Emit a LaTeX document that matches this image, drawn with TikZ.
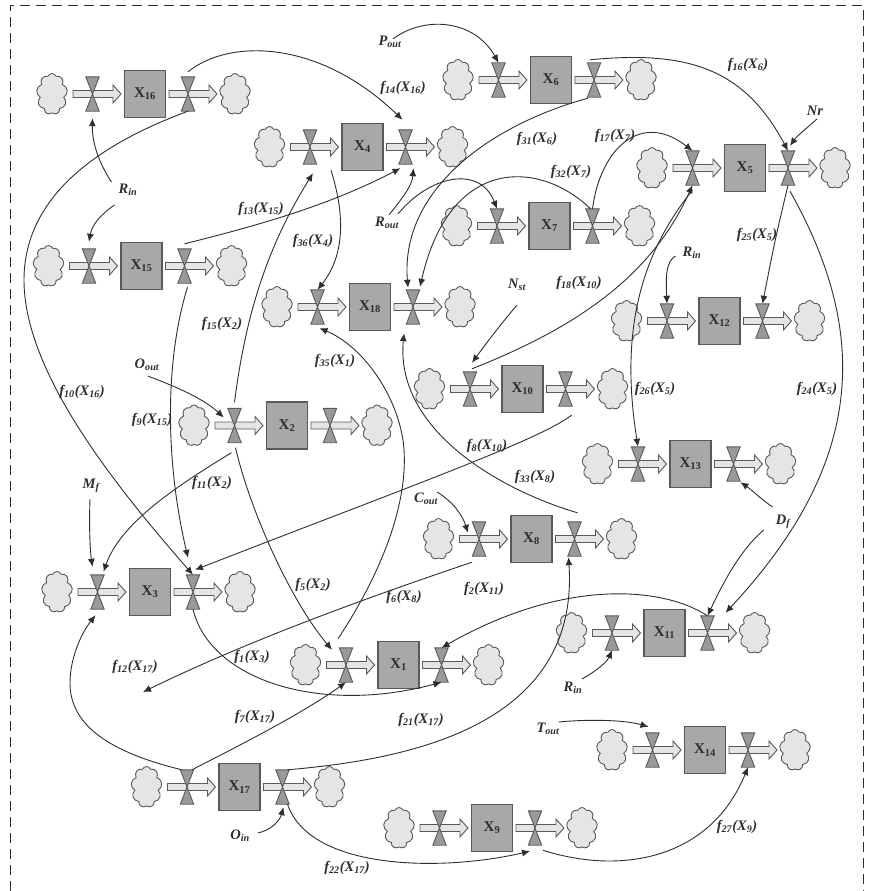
\documentclass[tikz,border=0pt]{standalone}
\usepackage{fontspec}
\setmainfont{Liberation Serif}
\usepackage{xcolor}
\usetikzlibrary{arrows.meta,shapes.symbols}
\definecolor{inkdark}{HTML}{2E2E2E}
\newcommand{\flab}[2]{f\textsubscript{#1}(X\textsubscript{#2})}
\newcommand{\rlab}[2]{#1\textsubscript{#2}}
% one stock with its two clouds, two valves and two block arrows
\newcommand{\stockrow}[4]{
  \begin{scope}[shift={(#2,#3)}]
    \node[cloudy] (#1a) at (-93,0) {};
    \node[cloudy] (#1b) at (90,0) {};
    \draw[flow] (-72,-3.5) -- (-32,-3.5) -- (-32,-9) -- (-24,0) -- (-32,9) -- (-32,3.5) -- (-72,3.5) -- cycle;
    \draw[flow] (24,-3.5) -- (64,-3.5) -- (64,-9) -- (72,0) -- (64,9) -- (64,3.5) -- (24,3.5) -- cycle;
    \node[valve] (#1i) at (-52.5,0) {};
    \node[valve] (#1o) at (43,0) {};
    \draw[fan] (#1i.north west) -- (#1i.north east) -- (#1i.south west) -- (#1i.south east) -- cycle;
    \draw[fan] (#1o.north west) -- (#1o.north east) -- (#1o.south west) -- (#1o.south east) -- cycle;
    \node[tank] (#1) at (0,0) {X\textsubscript{#4}};
  \end{scope}}

\begin{document}
\begin{tikzpicture}[x=1pt,y=-1pt,
  tank/.style={draw=black!65, line width=1.2pt, fill=black!34, minimum width=41pt, minimum height=47pt, inner sep=0pt, text=inkdark, font=\bfseries\fontsize{15}{18}\selectfont},
  cloudy/.style={cloud, cloud puffs=9, cloud puff arc=135, aspect=0.72, shape border rotate=20, draw=black!65, line width=0.9pt, fill=black!10, minimum width=31pt, minimum height=41pt, inner sep=0pt},
  valve/.style={minimum width=13pt, minimum height=34pt, inner sep=0pt},
  fan/.style={draw=black!65, line width=0.9pt, fill=black!40},
  flow/.style={draw=black!65, line width=0.9pt, fill=black!10},
  lab/.style={inner sep=0pt, text=inkdark, font=\bfseries\itshape\fontsize{14.5}{16}\selectfont},
  arr/.style={-{Latex[length=8pt,width=7pt]}, line width=0.9pt, draw=inkdark}]
  \useasboundingbox (0,0) rectangle (872,891);
  \draw[line width=0.9pt, draw=inkdark, dash pattern=on 10pt off 6pt] (10,891) -- (10,5) -- (863,5) -- (863,891);
  % stocks
  \stockrow{x16}{145}{94}{16}
  \stockrow{x6}{551}{80}{6}
  \stockrow{x4}{362.5}{147}{4}
  \stockrow{x5}{745}{168}{5}
  \stockrow{x7}{549.5}{226}{7}
  \stockrow{x15}{141.5}{266}{15}
  \stockrow{x18}{370}{307}{18}
  \stockrow{x12}{719.5}{321}{12}
  \stockrow{x10}{522.5}{389}{10}
  \stockrow{x2}{287}{425.5}{2}
  \stockrow{x13}{690.5}{464}{13}
  \stockrow{x8}{531.5}{539}{8}
  \stockrow{x3}{150}{592}{3}
  \stockrow{x1}{398.5}{665}{1}
  \stockrow{x11}{664.5}{633}{11}
  \stockrow{x14}{705}{750}{14}
  \stockrow{x17}{239.5}{787}{17}
  \stockrow{x9}{492}{828}{9}
  % rate labels
  \node[lab] (rin1) at (128,190) {\rlab{R}{in}};
  \node[lab] (oout) at (147,365) {\rlab{O}{out}};
  \node[lab] (pout) at (390,42) {\rlab{P}{out}};
  \node[lab] (nr) at (815,111) {Nr};
  \node[lab] (rout) at (387,223) {\rlab{R}{out}};
  \node[lab] (nst) at (517,285) {\rlab{N}{st}};
  \node[lab] (rin2) at (692,253) {\rlab{R}{in}};
  \node[lab] (df) at (783,522) {\rlab{D}{f}};
  \node[lab] (rin3) at (573,688) {\rlab{R}{in}};
  \node[lab] (tout) at (548,729) {\rlab{T}{out}};
  \node[lab] (cout) at (426,499) {\rlab{C}{out}};
  \node[lab] (mf) at (91,486) {\rlab{M}{f}};
  \node[lab] (oin) at (240,836) {\rlab{O}{in}};
  % function labels
  \node[lab] (l14) at (403,88) {\flab{14}{16}};
  \node[lab] (l16) at (748,65) {\flab{16}{6}};
  \node[lab] (l31) at (537,139) {\flab{31}{6}};
  \node[lab] (l17) at (615,136) {\flab{17}{7}};
  \node[lab] (l32) at (571,172) {\flab{32}{7}};
  \node[lab] (l13) at (261,209) {\flab{13}{15}};
  \node[lab] (l36) at (313,241) {\flab{36}{4}};
  \node[lab] (l15) at (222,324) {\flab{15}{2}};
  \node[lab] (l35) at (335,361) {\flab{35}{1}};
  \node[lab] (l18) at (579,283) {\flab{18}{10}};
  \node[lab] (l25) at (757,235) {\flab{25}{5}};
  \node[lab] (l26) at (655,389) {\flab{26}{5}};
  \node[lab] (l24) at (817,389) {\flab{24}{5}};
  \node[lab] (l10) at (82,392) {\flab{10}{16}};
  \node[lab] (l9) at (152,420) {\flab{9}{15}};
  \node[lab] (l11) at (212,483) {\flab{11}{2}};
  \node[lab] (l8) at (487,446) {\flab{8}{10}};
  \node[lab] (l33) at (535,477) {\flab{33}{8}};
  \node[lab] (l5) at (313,585) {\flab{5}{2}};
  \node[lab] (l6) at (404,597) {\flab{6}{8}};
  \node[lab] (l2) at (484,589) {\flab{2}{11}};
  \node[lab] (l1) at (252,657) {\flab{1}{3}};
  \node[lab] (l12) at (135,667) {\flab{12}{17}};
  \node[lab] (l7) at (255,717) {\flab{7}{17}};
  \node[lab] (l21) at (421,720) {\flab{21}{17}};
  \node[lab] (l22) at (347,868) {\flab{22}{17}};
  \node[lab] (l27) at (737,827) {\flab{27}{9}};
  \coordinate (e6) at (143,692);
  % rate arrows
  \draw[arr] ([shift={(-7,-8)}]rin1.west) .. controls (97,160) and (92,140) .. ([shift={(0,7)}]x16i.south);
  \draw[arr] ([shift={(-4,15)}]rin1.west) .. controls (100,215) and (92,225) .. ([shift={(0,-7)}]x15i.north);
  \draw[arr] ([shift={(1,5)}]oout.south) .. controls (180,388) and (205,400) .. ([shift={(-4,-8)}]x2i.west);
  \draw[arr] ([shift={(3,3)}]pout.north) .. controls (425,15) and (475,20) .. (x6i.north);
  \draw[arr] ([shift={(2,3)}]nr.south) .. controls (808,127) and (797,136) .. ([shift={(2,-5)}]x5o.north);
  \draw[arr] ([shift={(2,-2)}]rout.north) .. controls (405,195) and (412,185) .. ([shift={(8,4)}]x4o.south);
  \draw[arr] ([shift={(11,-3)}]rout.north) .. controls (430,175) and (480,165) .. (x7i.north);
  \draw[arr] ([shift={(0,14)}]nst.south) .. controls (500,325) and (485,345) .. ([shift={(2,-9)}]x10i.north);
  \draw[arr] ([shift={(-7,3)}]rin2.west) .. controls (665,262) and (666,280) .. (x12i.north);
  \draw[arr] ([shift={(-3,-15)}]df.west) .. controls (762,500) and (752,490) .. ([shift={(7,1)}]x13o.south);
  \draw[arr] ([shift={(-12,8)}]df.west) .. controls (740,550) and (722,585) .. (x11o.north);
  \draw[arr] ([shift={(9,-3)}]rin3.north) .. controls (595,672) and (607,662) .. (x11i.south);
  \draw[arr] ([shift={(-1,-7)}]tout.east) .. controls (590,719) and (625,720) .. ([shift={(-4,-6)}]x14i.north);
  \draw[arr] ([shift={(-1,-7)}]cout.east) .. controls (455,503) and (463,517) .. ([shift={(-11,11)}]x8i.north);
  \draw[arr] ([shift={(-1,6)}]mf.south) .. controls (89,525) and (90,550) .. ([shift={(-5,-8)}]x3i.north);
  \draw[arr] ([shift={(8,-3)}]oin.east) .. controls (272,830) and (280,820) .. ([shift={(1,3)}]x17o.south);
  % function arrows
  \draw[arr] ([shift={(0,-5)}]x16o.north) .. controls (230,38) and (320,40) .. ([shift={(-3,-10)}]x4o.north);
  \draw[arr] (x16o.south) .. controls (110,140) and (24,190) .. (24,280) .. controls (24,370) and (110,480) .. (x3o.north);
  \draw[arr] ([shift={(0,-5)}]x15o.north) .. controls (260,225) and (330,205) .. ([shift={(-5,4)}]x4o.south);
  \draw[arr] ([shift={(3,4)}]x15o.south) .. controls (165,360) and (165,460) .. ([shift={(-5,-17)}]x3o.north);
  \draw[arr] ([shift={(0,-6)}]x2i.north) .. controls (245,320) and (265,250) .. ([shift={(3,9)}]x4i.south);
  \draw[arr] ([shift={(21,6)}]x4i.south) .. controls (345,215) and (345,255) .. (x18i.north);
  \draw[arr] ([shift={(-8,-9)}]x1i.north) .. controls (390,560) and (410,490) .. (403,440) .. controls (395,390) and (360,345) .. ([shift={(2,4)}]x18i.south);
  \draw[arr] ([shift={(3,-9)}]x8o.north) .. controls (500,490) and (395,430) .. ([shift={(-9,9)}]x18o.south);
  \draw[arr] ([shift={(6,9)}]x10o.south) .. controls (540,440) and (400,490) .. ([shift={(2,-5)}]x3o.north);
  \draw[arr] ([shift={(-7,6)}]x8i.south) .. controls (390,590) and (260,635) .. (e6);
  \draw[arr] ([shift={(-3,10)}]x2i.south) .. controls (170,490) and (120,525) .. ([shift={(6,-3)}]x3i.north);
  \draw[arr] ([shift={(1,5)}]x2i.south) .. controls (250,510) and (290,600) .. ([shift={(-14,2)}]x1i.north);
  \draw[arr] (x3o.south) .. controls (210,680) and (320,715) .. (x1o.south);
  \draw[arr] ([shift={(-5,0)}]x17i.north) .. controls (100,750) and (70,720) .. (70,683) .. controls (70,660) and (80,635) .. ([shift={(-2,6)}]x3i.south);
  \draw[arr] ([shift={(5,0)}]x17i.north) .. controls (240,745) and (300,715) .. (x1i.south);
  \draw[arr] ([shift={(5,0)}]x17o.north) .. controls (400,760) and (580,730) .. ([shift={(-6,1)}]x8o.south);
  \draw[arr] ([shift={(5,0)}]x17o.south) .. controls (310,870) and (440,872) .. ([shift={(-5,6)}]x9o.south);
  \draw[arr] ([shift={(8,5)}]x9o.south) .. controls (620,875) and (710,860) .. (x14o.south);
  \draw[arr] (x11o.north) .. controls (660,585) and (560,580) .. (x1o.north);
  \draw[arr] ([shift={(2,6)}]x5o.south) .. controls (868,330) and (868,460) .. ([shift={(18,-3)}]x11o.north);
  \draw[arr] (x5o.south) .. controls (775,240) .. (x12o.north);
  \draw[arr] ([shift={(0,5)}]x5i.south) .. controls (636,260) and (621,340) .. (x13i.north);
  \draw[arr] ([shift={(2,-3)}]x10i.north) .. controls (570,330) and (650,280) .. (x5i.south);
  \draw[arr] (x7o.north) .. controls (600,150) and (640,110) .. (x5i.north);
  \draw[arr] ([shift={(-2,0)}]x7o.north) .. controls (540,160) and (450,155) .. ([shift={(7,-3)}]x18o.north);
  \draw[arr] ([shift={(-6,1)}]x6o.south) .. controls (490,125) and (400,190) .. ([shift={(-5,-2)}]x18o.north);
  \draw[arr] ([shift={(-4,-3)}]x6o.north) .. controls (690,50) and (745,70) .. (x5o.north);
\end{tikzpicture}
\end{document}
